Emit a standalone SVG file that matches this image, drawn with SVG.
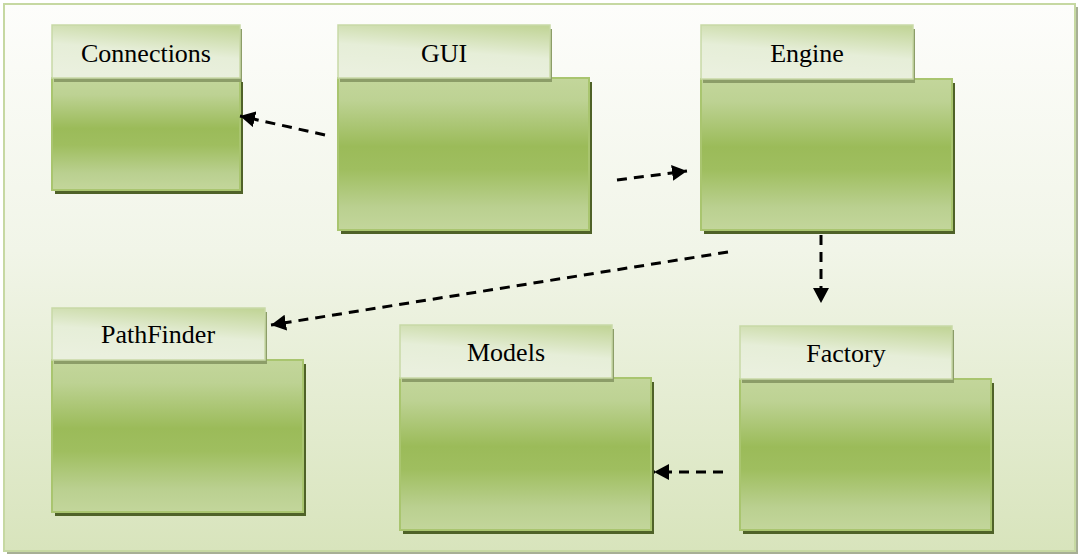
<svg xmlns="http://www.w3.org/2000/svg" width="1081" height="557" viewBox="0 0 1081 557">
<defs>
<linearGradient id="bg" x1="0" y1="0" x2="0" y2="1">
<stop offset="0" stop-color="#fdfdfb"/>
<stop offset="0.45" stop-color="#f1f5e8"/>
<stop offset="1" stop-color="#d8e4bc"/>
</linearGradient>
<linearGradient id="body" x1="0" y1="0" x2="0" y2="1">
<stop offset="0" stop-color="#c3d69b"/>
<stop offset="0.15" stop-color="#bdd293"/>
<stop offset="0.45" stop-color="#9bbb59"/>
<stop offset="0.6" stop-color="#9fbe5f"/>
<stop offset="0.85" stop-color="#bad090"/>
<stop offset="1" stop-color="#c3d69b"/>
</linearGradient>
<linearGradient id="tab" x1="0.85" y1="0" x2="0.55" y2="1">
<stop offset="0" stop-color="#c2d598"/>
<stop offset="0.55" stop-color="#e6eed8"/>
<stop offset="1" stop-color="#eaf0de"/>
</linearGradient>
<marker id="ah" markerUnits="userSpaceOnUse" markerWidth="16" markerHeight="16" refX="15" refY="8" orient="auto">
<path d="M0,0 L15,8 L0,16 z" fill="#000"/>
</marker>
<style>
.bsh{fill:#4f6228}
.body{fill:url(#body);stroke:#a9c56f;stroke-width:2}
.tsh{fill:#8c9d68}
.tab{fill:url(#tab);stroke:#c8d9a6;stroke-width:1.5}
.lbl{font-family:"Liberation Serif","Times New Roman",serif;font-size:26px;fill:#000;text-anchor:middle}
.dep{fill:none;stroke:#000;stroke-width:3;stroke-dasharray:10 7;marker-end:url(#ah)}
</style>
</defs>
<g id="frame">
<rect x="7" y="7" width="1071" height="547" fill="#a7af95"/>
<rect x="4" y="4" width="1071" height="547" fill="url(#bg)" stroke="#c6d8a2" stroke-width="2"/>
</g>
<g id="node-connections">
<rect class="bsh" x="55" y="82" width="188" height="112"/>
<rect class="body" x="52" y="78" width="188" height="112"/>
<rect class="tsh" x="54" y="29" width="188" height="53"/>
<rect class="tab" x="52" y="25" width="188" height="53"/>
<text class="lbl" x="146" y="62">Connections</text>
</g>
<g id="node-gui">
<rect class="bsh" x="341" y="82" width="251" height="152"/>
<rect class="body" x="338" y="78" width="251" height="152"/>
<rect class="tsh" x="340" y="29" width="212" height="53"/>
<rect class="tab" x="338" y="25" width="212" height="53"/>
<text class="lbl" x="444" y="62">GUI</text>
</g>
<g id="node-engine">
<rect class="bsh" x="704" y="83" width="251" height="151"/>
<rect class="body" x="701" y="79" width="251" height="151"/>
<rect class="tsh" x="703" y="29" width="212" height="54"/>
<rect class="tab" x="701" y="25" width="212" height="54"/>
<text class="lbl" x="807" y="62">Engine</text>
</g>
<g id="node-pathfinder">
<rect class="bsh" x="55" y="364" width="251" height="152"/>
<rect class="body" x="52" y="360" width="251" height="152"/>
<rect class="tsh" x="54" y="312" width="213" height="52"/>
<rect class="tab" x="52" y="308" width="213" height="52"/>
<text class="lbl" x="158" y="343">PathFinder</text>
</g>
<g id="node-models">
<rect class="bsh" x="403" y="382" width="251" height="152"/>
<rect class="body" x="400" y="378" width="251" height="152"/>
<rect class="tsh" x="402" y="329" width="212" height="53"/>
<rect class="tab" x="400" y="325" width="212" height="53"/>
<text class="lbl" x="506" y="361">Models</text>
</g>
<g id="node-factory">
<rect class="bsh" x="743" y="383" width="251" height="151"/>
<rect class="body" x="740" y="379" width="251" height="151"/>
<rect class="tsh" x="742" y="330" width="212" height="53"/>
<rect class="tab" x="740" y="326" width="212" height="53"/>
<text class="lbl" x="846" y="362">Factory</text>
</g>
<g id="connectors">
<path class="dep" d="M325,135 L240,116"/>
<path class="dep" d="M617,180 L687,171"/>
<path class="dep" d="M821,235 L821,303"/>
<path class="dep" d="M728,252 L271,325"/>
<path class="dep" d="M723,472 L654,472"/>
</g>
</svg>
